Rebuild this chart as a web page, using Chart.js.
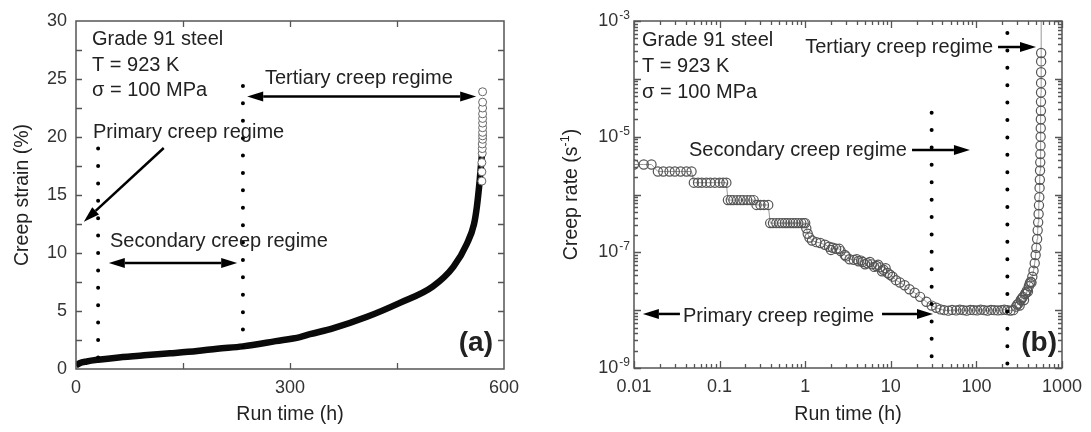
<!DOCTYPE html>
<html>
<head>
<meta charset="utf-8">
<script src="https://cdn.jsdelivr.net/npm/chart.js@4.4.0/dist/chart.umd.min.js"></script>
<style>
  body { margin: 0; background: #fff; }
  #wrap { position: relative; width: 1091px; height: 432px; }
  .panel { position: absolute; top: 0; height: 432px; }
</style>
</head>
<body>
<div id="wrap">
  <div class="panel" style="left:0;width:545px"><canvas id="strain_chart" width="545" height="432"></canvas></div>
  <div class="panel" style="left:545px;width:546px"><canvas id="rate_chart" width="546" height="432"></canvas></div>
</div>
<script>
// (a) creep strain vs run time
var strainTime = [0, 5, 15, 31, 60, 100, 132, 170, 198, 234, 280, 314, 328, 360, 408, 454, 500, 529, 548, 558, 562, 566, 569];
var strainVal  = [0.3, 0.5, 0.65, 0.8, 1.0, 1.2, 1.35, 1.55, 1.75, 1.95, 2.4, 2.75, 3.0, 3.5, 4.5, 5.7, 7.1, 8.8, 10.8, 12.5, 14.0, 16.3, 18.5];
// loose circles at the end of the test
var tertTime = [569, 569, 569, 569.5, 569.5, 569.5, 570, 570, 570, 570, 570, 570, 570, 570, 570, 570];
var tertVal  = [16.2, 17.0, 17.8, 18.6, 19.0, 19.4, 19.8, 20.1, 20.4, 20.8, 21.2, 21.6, 22.0, 22.5, 23.0, 23.9];

// (b) creep rate vs run time
var rateTime = [
  0.01, 0.013, 0.016,
  0.019, 0.022, 0.026, 0.03, 0.035, 0.041, 0.047,
  0.05, 0.056, 0.062, 0.07, 0.078, 0.088, 0.1, 0.11, 0.12,
  0.125, 0.135, 0.145, 0.16, 0.175, 0.19, 0.21, 0.23, 0.25,
  0.27, 0.3, 0.33, 0.37,
  0.39, 0.42, 0.46, 0.5, 0.54, 0.58, 0.62, 0.67, 0.72, 0.77, 0.83, 0.9, 0.96, 1.0,
  1.03, 1.07, 1.12, 1.2, 1.35, 1.5, 1.7, 1.9, 2.0, 2.1, 2.3, 2.5, 2.6, 2.9, 3.0, 3.3, 3.7,
  4.0, 4.2, 4.5, 4.7, 5.0, 5.3, 5.7, 6.0, 6.4, 6.8, 7.1, 7.5, 7.9, 8.2, 8.7, 9.2, 9.8,
  10.5, 11.5, 12.8, 14.5, 16.5, 19, 22, 26, 30, 34, 38,
  42, 47, 52, 58, 64, 70, 77, 85, 93, 102, 112, 123, 135, 148, 162, 178, 195, 212, 230, 250, 270,
  290, 300, 310, 320, 330, 340, 350, 360, 370, 380, 390, 400, 410, 420, 430, 440, 450,
  465, 480, 492, 502, 512, 520, 527, 533, 538, 543, 547, 551, 554, 557, 559, 561, 563, 564.5, 566, 567, 568, 569, 569.5, 570, 570.5, 571, 575
];
var rateVal = [
  3.3e-6, 3.3e-6, 3.3e-6,
  2.5e-6, 2.5e-6, 2.5e-6, 2.5e-6, 2.5e-6, 2.5e-6, 2.5e-6,
  1.6e-6, 1.6e-6, 1.6e-6, 1.6e-6, 1.6e-6, 1.6e-6, 1.6e-6, 1.6e-6, 1.6e-6,
  8.0e-7, 8.0e-7, 8.0e-7, 8.0e-7, 8.0e-7, 8.0e-7, 8.0e-7, 8.0e-7, 8.0e-7,
  6.6e-7, 6.6e-7, 6.6e-7, 6.6e-7,
  3.2e-7, 3.2e-7, 3.2e-7, 3.2e-7, 3.2e-7, 3.2e-7, 3.2e-7, 3.2e-7, 3.2e-7, 3.2e-7, 3.2e-7, 3.2e-7, 3.2e-7, 3.2e-7,
  2.6e-7, 2.1e-7, 1.8e-7, 1.6e-7, 1.5e-7, 1.45e-7, 1.35e-7, 1.25e-7, 1.1e-7, 1.2e-7, 1.15e-7, 1.15e-7, 1.05e-7, 9e-8, 8.5e-8, 7.6e-8, 7.4e-8,
  7.6e-8, 7e-8, 7.2e-8, 6.8e-8, 6.2e-8, 6.5e-8, 6.8e-8, 6.2e-8, 5.6e-8, 5.8e-8, 6.1e-8, 5.5e-8, 4.7e-8, 5e-8, 5.3e-8, 4.4e-8, 4.1e-8,
  3.8e-8, 3.3e-8, 3e-8, 2.7e-8, 2.3e-8, 2.0e-8, 1.7e-8, 1.4e-8, 1.2e-8, 1.1e-8, 1.03e-8,
  1.0e-8, 0.98e-8, 1.01e-8, 0.99e-8, 1.02e-8, 1.0e-8, 0.98e-8, 1.01e-8, 1.0e-8, 0.99e-8, 1.02e-8, 1.0e-8, 0.98e-8, 1.01e-8, 1.0e-8, 0.99e-8, 1.0e-8, 1.02e-8, 1.0e-8, 0.98e-8, 1.0e-8,
  1.15e-8, 1.25e-8, 1.3e-8, 1.2e-8, 1.5e-8, 1.6e-8, 1.7e-8, 1.5e-8, 1.9e-8, 2.0e-8, 2.2e-8, 2.1e-8, 2.6e-8, 2.9e-8, 3.1e-8, 3.0e-8, 3.8e-8,
  4.8e-8, 6.5e-8, 9e-8, 1.2e-7, 1.7e-7, 2.4e-7, 3.3e-7, 4.6e-7, 6.5e-7, 9e-7, 1.3e-6, 1.8e-6, 2.6e-6, 3.6e-6, 5e-6, 7e-6, 1e-5, 1.4e-5, 2e-5, 2.8e-5, 4e-5, 5.8e-5, 8.5e-5, 1.3e-4, 2e-4, 2.8e-4, 1e-2
];

var strainTickLabels = [0, 300, 600];
var rateExpLabels = [-3, -5, -7, -9];

var FONT = '"Liberation Sans", Arial, sans-serif';
var INK = '#222';

function toXY(xs, ys) {
  return xs.map(function (x, i) { return { x: x, y: ys[i] }; });
}

function drawArrow(ctx, x1, y1, x2, y2, both) {
  var hl = 16, hw = 5;
  var a = Math.atan2(y2 - y1, x2 - x1);
  var c = Math.cos(a), s = Math.sin(a);
  var sx = both ? x1 + hl * c : x1, sy = both ? y1 + hl * s : y1;
  ctx.beginPath();
  ctx.moveTo(sx, sy);
  ctx.lineTo(x2 - hl * c, y2 - hl * s);
  ctx.stroke();
  function head(tx, ty, dir) {
    var bx = tx - dir * hl * c, by = ty - dir * hl * s;
    ctx.beginPath();
    ctx.moveTo(tx, ty);
    ctx.lineTo(bx + hw * s, by - hw * c);
    ctx.lineTo(bx - hw * s, by + hw * c);
    ctx.closePath();
    ctx.fill();
  }
  head(x2, y2, 1);
  if (both) head(x1, y1, -1);
}

function notesPlugin(notes) {
  return {
    id: 'notes',
    afterDatasetsDraw: function (chart) {
      var ctx = chart.ctx, xs = chart.scales.x, ys = chart.scales.y;
      ctx.save();
      // dotted regime boundaries
      ctx.strokeStyle = '#000';
      ctx.lineWidth = 4;
      ctx.lineCap = 'round';
      ctx.setLineDash([0, 17.4]);
      notes.dots.forEach(function (d) {
        var x = xs.getPixelForValue(d.x);
        ctx.beginPath();
        ctx.moveTo(x, ys.getPixelForValue(d.top));
        ctx.lineTo(x, ys.getPixelForValue(d.bottom));
        ctx.stroke();
      });
      ctx.setLineDash([]);
      ctx.lineCap = 'butt';
      // arrows
      ctx.strokeStyle = '#000';
      ctx.fillStyle = '#000';
      ctx.lineWidth = 2.5;
      notes.arrows.forEach(function (a) {
        drawArrow(ctx, xs.getPixelForValue(a.x1), ys.getPixelForValue(a.y1),
          xs.getPixelForValue(a.x2), ys.getPixelForValue(a.y2), a.both);
      });
      // texts
      ctx.fillStyle = INK;
      ctx.textBaseline = 'middle';
      notes.texts.forEach(function (t) {
        ctx.font = (t.bold ? 'bold ' : '') + (t.size || 20) + 'px ' + FONT;
        ctx.textAlign = t.align || 'left';
        ctx.fillText(t.text, t.x, t.y);
      });
      ctx.restore();
    },
    afterDraw: function (chart) {
      var ctx = chart.ctx, ca = chart.chartArea, xs = chart.scales.x, ys = chart.scales.y;
      ctx.save();
      ctx.strokeStyle = '#555';
      ctx.lineWidth = 1.5;
      ctx.strokeRect(ca.left, ca.top, ca.right - ca.left, ca.bottom - ca.top);
      ctx.lineWidth = 1.3;
      ctx.beginPath();
      notes.xTicks.forEach(function (t) {
        var x = Math.round(xs.getPixelForValue(t.v)) + 0.5;
        ctx.moveTo(x, ca.bottom); ctx.lineTo(x, ca.bottom - t.len);
        ctx.moveTo(x, ca.top); ctx.lineTo(x, ca.top + t.len);
      });
      notes.yTicks.forEach(function (t) {
        var y = Math.round(ys.getPixelForValue(t.v)) + 0.5;
        ctx.moveTo(ca.left, y); ctx.lineTo(ca.left + t.len, y);
        ctx.moveTo(ca.right, y); ctx.lineTo(ca.right - t.len, y);
      });
      ctx.stroke();
      if (notes.afterDraw) notes.afterDraw(chart, ctx);
      ctx.restore();
    }
  };
}

function logTicks(e0, e1) {
  var out = [];
  for (var e = e0; e < e1; e++) {
    for (var k = 1; k <= 9; k++) {
      out.push({ v: k * Math.pow(10, e), len: k === 1 ? 7 : 4 });
    }
  }
  out.push({ v: Math.pow(10, e1), len: 7 });
  return out;
}

// ---------- panel (a) ----------
var strainNotes = {
  dots: [
    { x: 31, top: 19.0, bottom: 0.4 },
    { x: 234, top: 24.4, bottom: 0.4 }
  ],
  arrows: [
    { x1: 123, y1: 19.05, x2: 11, y2: 12.7 },
    { x1: 240, y1: 23.5, x2: 561, y2: 23.5, both: true },
    { x1: 46, y1: 9.14, x2: 226, y2: 9.14, both: true }
  ],
  texts: [
    { text: 'Grade 91 steel', x: 92, y: 39 },
    { text: 'T = 923 K', x: 92, y: 65 },
    { text: '\u03c3 = 100 MPa', x: 92, y: 90 },
    { text: 'Primary creep regime', x: 93, y: 132 },
    { text: 'Tertiary creep regime', x: 265, y: 78 },
    { text: 'Secondary creep regime', x: 110, y: 241 },
    { text: '(a)', x: 493, y: 343, bold: true, size: 28, align: 'right' }
  ],
  xTicks: [150, 300, 450].map(function (v) { return { v: v, len: 6 }; }),
  yTicks: [2.5, 5, 7.5, 10, 12.5, 15, 17.5, 20, 22.5, 25, 27.5].map(function (v) { return { v: v, len: 6 }; })
};

new Chart(document.getElementById('strain_chart').getContext('2d'), {
  type: 'line',
  data: {
    datasets: [
      {
        label: 'end of test',
        data: toXY(tertTime, tertVal),
        showLine: false,
        pointRadius: 4,
        pointBorderWidth: 1,
        pointBorderColor: '#666',
        pointBackgroundColor: '#fff'
      },
      {
        label: 'Creep strain',
        data: toXY(strainTime, strainVal),
        borderColor: '#0a0a0a',
        borderWidth: 6.5,
        pointRadius: 0,
        cubicInterpolationMode: 'monotone',
        fill: false
      }
    ]
  },
  options: {
    animation: false,
    responsive: false,
    devicePixelRatio: 1,
    layout: { padding: { left: 0, right: 41, top: 21, bottom: 0 } },
    plugins: { legend: { display: false }, tooltip: { enabled: false } },
    scales: {
      x: {
        type: 'linear', min: 0, max: 600,
        grid: { display: false, drawTicks: false },
        border: { display: false },
        ticks: {
          stepSize: 150, autoSkip: false, maxRotation: 0, padding: 8,
          color: '#333', font: { family: FONT, size: 18 },
          callback: function (v) { return strainTickLabels.indexOf(v) >= 0 ? String(v) : ''; }
        },
        title: { display: true, text: 'Run time (h)', color: INK, font: { family: FONT, size: 19.5 }, padding: { top: 0, bottom: 6 } },
        afterFit: function (s) { s.height = 63; }
      },
      y: {
        type: 'linear', min: 0, max: 30,
        grid: { display: false, drawTicks: false },
        border: { display: false },
        ticks: {
          stepSize: 2.5, autoSkip: false, padding: 9,
          color: '#333', font: { family: FONT, size: 18 },
          callback: function (v) { return v % 5 === 0 ? String(v) : ''; }
        },
        title: { display: true, text: 'Creep strain (%)', color: INK, font: { family: FONT, size: 19.5 }, padding: { top: 11, bottom: 0 } },
        afterFit: function (s) { s.width = 76; }
      }
    }
  },
  plugins: [notesPlugin(strainNotes)]
});

// ---------- panel (b) ----------
function drawSup(ctx, base, sup, xRight, y) {
  ctx.font = '12px ' + FONT;
  var ws = ctx.measureText(sup).width;
  ctx.textAlign = 'left';
  ctx.textBaseline = 'alphabetic';
  ctx.fillText(sup, xRight - ws, y - 2);
  ctx.font = '18px ' + FONT;
  ctx.textAlign = 'right';
  ctx.textBaseline = 'middle';
  ctx.fillText(base, xRight - ws - 1, y);
}

var rateNotes = {
  dots: [
    { x: 30, top: 2.6e-5, bottom: 1.15e-9 },
    { x: 230, top: 6.2e-4, bottom: 1.15e-9 }
  ],
  arrows: [
    { x1: 179, y1: 3.55e-4, x2: 497, y2: 3.55e-4 },
    { x1: 17.7, y1: 5.9e-6, x2: 84, y2: 5.9e-6 },
    { x1: 0.0344, y1: 8.6e-9, x2: 0.0127, y2: 8.6e-9 },
    { x1: 7.9, y1: 8.6e-9, x2: 31.1, y2: 8.6e-9 }
  ],
  texts: [
    { text: 'Grade 91 steel', x: 97, y: 40 },
    { text: 'T = 923 K', x: 97, y: 66 },
    { text: '\u03c3 = 100 MPa', x: 97, y: 92 },
    { text: 'Tertiary creep regime', x: 448, y: 47, align: 'right' },
    { text: 'Secondary creep regime', x: 144, y: 150 },
    { text: 'Primary creep regime', x: 138, y: 316 },
    { text: '(b)', x: 512, y: 343, bold: true, size: 28, align: 'right' }
  ],
  xTicks: logTicks(-2, 3),
  yTicks: logTicks(-9, -3),
  afterDraw: function (chart, ctx) {
    var ys = chart.scales.y, ca = chart.chartArea;
    ctx.fillStyle = '#333';
    rateExpLabels.forEach(function (e) {
      drawSup(ctx, '10', String(e), ca.left - 4, ys.getPixelForValue(Math.pow(10, e)));
    });
    // y axis title with superscript
    ctx.save();
    ctx.translate(27, (ca.top + ca.bottom) / 2);
    ctx.rotate(-Math.PI / 2);
    ctx.fillStyle = INK;
    ctx.textBaseline = 'middle';
    ctx.textAlign = 'left';
    var f1 = '19.5px ' + FONT, f2 = '12.5px ' + FONT;
    ctx.font = f1;
    var wA = ctx.measureText('Creep rate (s').width, wC = ctx.measureText(')').width;
    ctx.font = f2;
    var wB = ctx.measureText('-1').width;
    var x0 = -(wA + wB + wC) / 2;
    ctx.font = f1;
    ctx.fillText('Creep rate (s', x0, 0);
    ctx.font = f2;
    ctx.fillText('-1', x0 + wA, -6);
    ctx.font = f1;
    ctx.fillText(')', x0 + wA + wB, 0);
    ctx.restore();
  }
};

new Chart(document.getElementById('rate_chart').getContext('2d'), {
  type: 'line',
  data: {
    datasets: [{
      label: 'Creep rate',
      data: toXY(rateTime, rateVal),
      borderColor: '#999',
      borderWidth: 1,
      pointRadius: 4.6,
      pointBorderWidth: 1.2,
      pointBorderColor: '#555',
      pointBackgroundColor: 'rgba(255,255,255,0)',
      fill: false
    }]
  },
  options: {
    animation: false,
    responsive: false,
    devicePixelRatio: 1,
    layout: { padding: { left: 0, right: 29, top: 21, bottom: 0 } },
    plugins: { legend: { display: false }, tooltip: { enabled: false } },
    scales: {
      x: {
        type: 'logarithmic', min: 0.01, max: 1000,
        grid: { display: false, drawTicks: false },
        border: { display: false },
        ticks: {
          autoSkip: false, maxRotation: 0, padding: 8,
          color: '#333', font: { family: FONT, size: 18 },
          callback: function (v) {
            var l = Math.log10(v);
            return Math.abs(l - Math.round(l)) < 1e-6 ? String(Number(v.toPrecision(3))) : '';
          }
        },
        title: { display: true, text: 'Run time (h)', color: INK, font: { family: FONT, size: 19.5 }, padding: { top: 0, bottom: 6 } },
        afterFit: function (s) { s.height = 64; }
      },
      y: {
        type: 'logarithmic', min: 1e-9, max: 1e-3,
        grid: { display: false, drawTicks: false },
        border: { display: false },
        ticks: { display: false },
        afterFit: function (s) { s.width = 89; }
      }
    }
  },
  plugins: [notesPlugin(rateNotes)]
});
</script>
</body>
</html>
